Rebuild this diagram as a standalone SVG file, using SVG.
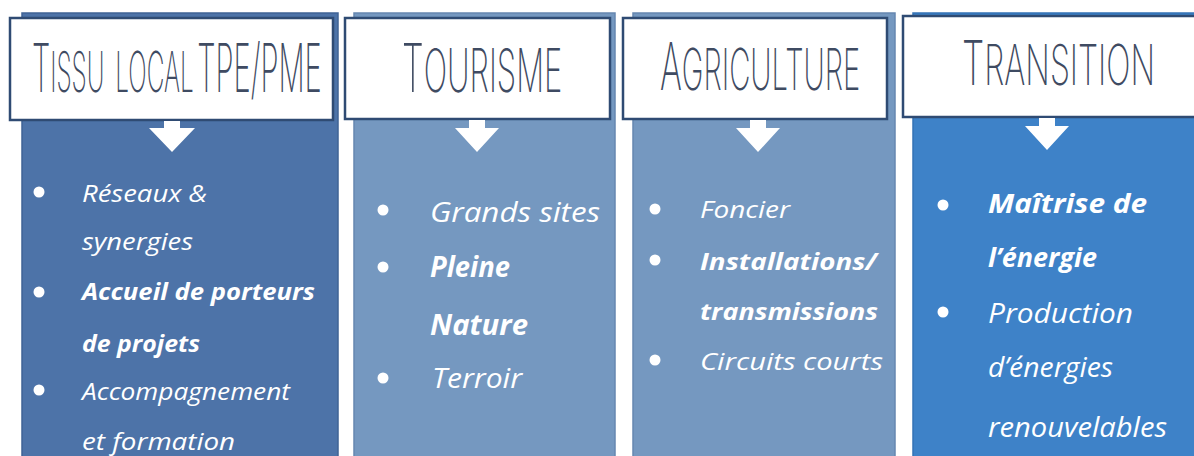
<svg xmlns="http://www.w3.org/2000/svg" width="1194" height="456" viewBox="0 0 1194 456">
<style>
.hdr{fill:#ffffff;stroke:#2f4b73;stroke-width:2.5}
.ttl{font-family:Inter,"Liberation Sans",sans-serif;font-weight:200;fill:#3f4b62}
.item{font-family:"Open Sans","Noto Sans",sans-serif;font-style:italic;fill:#ffffff}
.b{font-weight:700}
.dot{fill:#ffffff}
.arr{fill:#ffffff}
</style>
<rect width="1194" height="456" fill="#ffffff"/>
<g id="col-tissu">
<rect x="22" y="13" width="316" height="450" fill="#4d73a8" stroke="#3f6395" stroke-width="1.5"/>
<rect class="hdr" x="10" y="18" width="323" height="102"/>
<text class="ttl" transform="translate(32,92) scale(0.435,1)"><tspan font-size="67">T</tspan><tspan font-size="56">ISSU</tspan><tspan font-size="56" dx="25">LOCAL</tspan><tspan font-size="67" dx="8">TPE/PME</tspan></text>
<circle class="dot" cx="39" cy="192" r="5.5"/>
<circle class="dot" cx="39" cy="292" r="5.5"/>
<circle class="dot" cx="39" cy="390" r="5.5"/>
<text class="item" font-size="24" x="82" y="202" textLength="125" lengthAdjust="spacingAndGlyphs">Réseaux &amp;</text>
<text class="item" font-size="24" x="82" y="250" textLength="111" lengthAdjust="spacingAndGlyphs">synergies</text>
<text class="item b" font-size="24" x="82" y="300" textLength="233" lengthAdjust="spacingAndGlyphs">Accueil de porteurs</text>
<text class="item b" font-size="24" x="82" y="352" textLength="118" lengthAdjust="spacingAndGlyphs">de projets</text>
<text class="item" font-size="24" x="82" y="400" textLength="208" lengthAdjust="spacingAndGlyphs">Accompagnement</text>
<text class="item" font-size="24" x="82" y="450" textLength="153" lengthAdjust="spacingAndGlyphs">et formation</text>
</g>
<g id="col-tourisme">
<rect x="354" y="13" width="261" height="450" fill="#7598c0" stroke="#6687b0" stroke-width="1.5"/>
<rect class="hdr" x="345" y="18" width="265" height="101"/>
<text class="ttl" transform="translate(402,92) scale(0.517,1)"><tspan font-size="67">T</tspan><tspan font-size="60">OURISME</tspan></text>
<circle class="dot" cx="383" cy="210" r="5.5"/>
<circle class="dot" cx="383" cy="267" r="5.5"/>
<circle class="dot" cx="383" cy="378" r="5.5"/>
<text class="item" font-size="28" x="430" y="222" textLength="170" lengthAdjust="spacingAndGlyphs">Grands sites</text>
<text class="item b" font-size="28" x="430" y="277" textLength="80" lengthAdjust="spacingAndGlyphs">Pleine</text>
<text class="item b" font-size="28" x="430" y="335" textLength="98" lengthAdjust="spacingAndGlyphs">Nature</text>
<text class="item" font-size="28" x="432" y="388" textLength="90" lengthAdjust="spacingAndGlyphs">Terroir</text>
</g>
<g id="col-agriculture">
<rect x="633" y="13" width="262" height="450" fill="#7598c0" stroke="#6687b0" stroke-width="1.5"/>
<rect class="hdr" x="623" y="18" width="264" height="101"/>
<text class="ttl" transform="translate(660,90) scale(0.504,1)"><tspan font-size="66">A</tspan><tspan font-size="58">GRICULTURE</tspan></text>
<circle class="dot" cx="655" cy="209" r="5.5"/>
<circle class="dot" cx="655" cy="260" r="5.5"/>
<circle class="dot" cx="655" cy="360" r="5.5"/>
<text class="item" font-size="24" x="700" y="218" textLength="90" lengthAdjust="spacingAndGlyphs">Foncier</text>
<text class="item b" font-size="24" x="700" y="270" textLength="177" lengthAdjust="spacingAndGlyphs">Installations/</text>
<text class="item b" font-size="24" x="700" y="320" textLength="178" lengthAdjust="spacingAndGlyphs">transmissions</text>
<text class="item" font-size="24" x="700" y="370" textLength="183" lengthAdjust="spacingAndGlyphs">Circuits courts</text>
</g>
<g id="col-transition">
<rect x="913" y="13" width="290" height="450" fill="#3e82c8" stroke="#3573b5" stroke-width="1.5"/>
<rect class="hdr" x="903" y="16" width="300" height="101"/>
<text class="ttl" transform="translate(962,85) scale(0.573,1)"><tspan font-size="62">T</tspan><tspan font-size="56">RANSITION</tspan></text>
<circle class="dot" cx="943" cy="205" r="5.5"/>
<circle class="dot" cx="943" cy="312" r="5.5"/>
<text class="item b" font-size="27" x="988" y="213" textLength="159" lengthAdjust="spacingAndGlyphs">Maîtrise de</text>
<text class="item b" font-size="27" x="988" y="267" textLength="109" lengthAdjust="spacingAndGlyphs">l’énergie</text>
<text class="item" font-size="27" x="988" y="323" textLength="145" lengthAdjust="spacingAndGlyphs">Production</text>
<text class="item" font-size="27" x="988" y="377" textLength="125" lengthAdjust="spacingAndGlyphs">d’énergies</text>
<text class="item" font-size="27" x="988" y="437" textLength="179" lengthAdjust="spacingAndGlyphs">renouvelables</text>
</g>
<g id="connectors">
<path class="arr" d="M164 121 H180 V128 H195 L172 152 L149 128 H164 Z"/>
<path class="arr" d="M469 120 H485 V128 H499 L477 152 L455 128 H469 Z"/>
<path class="arr" d="M750 120 H766 V128 H780 L758 152 L736 128 H750 Z"/>
<path class="arr" d="M1039 118 H1055 V126 H1069 L1047 150 L1025 126 H1039 Z"/>
</g>
</svg>
